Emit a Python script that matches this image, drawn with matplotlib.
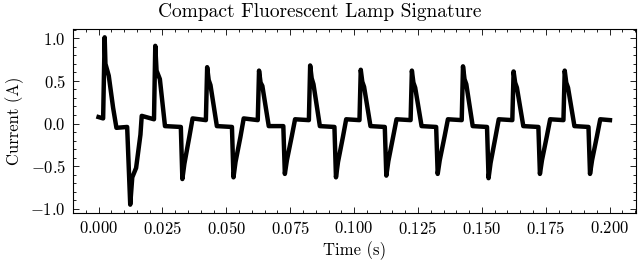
import matplotlib
matplotlib.use("Agg")
import matplotlib.pyplot as plt
from matplotlib.ticker import AutoMinorLocator, MultipleLocator

plt.rcParams['font.family'] = ['cmr10', 'DejaVu Serif']
plt.rcParams['mathtext.fontset'] = 'cm'
plt.rcParams['axes.formatter.use_mathtext'] = True
plt.rcParams['axes.unicode_minus'] = True

time_s = [
    0.0000, 0.0018, 0.0024, 0.0027, 0.0040, 0.0057, 0.0070, 0.0112, 0.0124, 0.0132, 0.0147, 0.0164, 0.0169,
    0.0217, 0.0222, 0.0227, 0.0240, 0.0260, 0.0322, 0.0328, 0.0336, 0.0355, 0.0368,
    0.0420, 0.0425, 0.0431, 0.0438, 0.0463, 0.0522, 0.0528, 0.0536, 0.0555, 0.0568,
    0.0623, 0.0628, 0.0634, 0.0641, 0.0666, 0.0723, 0.0729, 0.0737, 0.0756, 0.0769,
    0.0823, 0.0828, 0.0834, 0.0841, 0.0866, 0.0923, 0.0929, 0.0937, 0.0956, 0.0969,
    0.1021, 0.1026, 0.1032, 0.1039, 0.1064, 0.1120, 0.1126, 0.1134, 0.1153, 0.1166,
    0.1221, 0.1226, 0.1232, 0.1239, 0.1264, 0.1321, 0.1327, 0.1335, 0.1354, 0.1367,
    0.1421, 0.1426, 0.1432, 0.1439, 0.1464, 0.1520, 0.1526, 0.1534, 0.1553, 0.1566,
    0.1619, 0.1624, 0.1630, 0.1637, 0.1662, 0.1721, 0.1727, 0.1735, 0.1754, 0.1767,
    0.1819, 0.1824, 0.1830, 0.1837, 0.1862, 0.1917, 0.1923, 0.1931, 0.1950, 0.1963, 0.2001,
]
current_a = [
    0.076, 0.06, 1.01, 0.70, 0.56, 0.185, -0.05, -0.04, -0.95, -0.63, -0.52, -0.13, 0.09,
    0.05, 0.91, 0.62, 0.52, -0.03, -0.04, -0.65, -0.47, -0.16, 0.06,
    0.04, 0.66, 0.51, 0.45, -0.03, -0.04, -0.63, -0.45, -0.16, 0.06,
    0.04, 0.62, 0.48, 0.44, -0.03, -0.03, -0.59, -0.43, -0.15, 0.05,
    0.04, 0.68, 0.53, 0.46, -0.03, -0.04, -0.63, -0.45, -0.16, 0.05,
    0.04, 0.63, 0.49, 0.43, -0.03, -0.04, -0.61, -0.44, -0.15, 0.05,
    0.04, 0.62, 0.48, 0.42, -0.03, -0.04, -0.59, -0.43, -0.15, 0.05,
    0.04, 0.67, 0.52, 0.46, -0.03, -0.04, -0.64, -0.46, -0.16, 0.05,
    0.04, 0.61, 0.48, 0.42, -0.03, -0.04, -0.59, -0.43, -0.15, 0.05,
    0.04, 0.62, 0.48, 0.42, -0.03, -0.04, -0.59, -0.43, -0.15, 0.05, 0.04,
]

fig = plt.figure(figsize=(6.4, 2.63), dpi=100)
ax = fig.add_axes([0.114, 0.19, 0.879, 0.70])
ax.plot(time_s, current_a, color='black', linewidth=3.2, solid_joinstyle='round')

fig.text(0.5, 0.955, 'Compact Fluorescent Lamp Signature', fontsize=14,
         ha='center', va='center')
ax.set_xlabel('Time (s)', fontsize=12, labelpad=3)
ax.set_ylabel('Current (A)', fontsize=12, labelpad=5)
ax.xaxis.set_major_locator(MultipleLocator(0.025))
ax.yaxis.set_major_locator(MultipleLocator(0.5))
ax.xaxis.set_minor_locator(AutoMinorLocator(5))
ax.yaxis.set_minor_locator(AutoMinorLocator(5))
ax.tick_params(which='both', direction='in', top=True, right=True, labelsize=12, width=0.6)
ax.tick_params(which='major', length=4, pad=5)
ax.tick_params(which='minor', length=2)
for s in ax.spines.values():
    s.set_linewidth(0.8)

fig.savefig('out.png', dpi=100)
